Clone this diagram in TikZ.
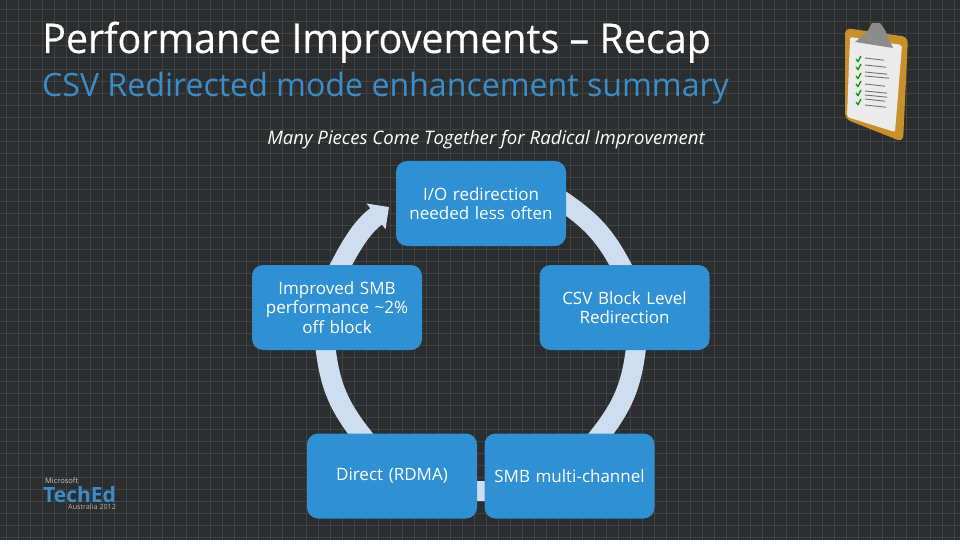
\documentclass[tikz,border=0pt]{standalone}
\usepackage{fontspec}
\setmainfont{Open Sans}
\newfontfamily\titlefont[FakeBold=0.35, FakeStretch=0.962]{Open Sans}
\usetikzlibrary{arrows.meta, backgrounds}
\definecolor{slatebg}{HTML}{2B2D2E}
\definecolor{slategrid}{HTML}{3F4343}
\definecolor{stepblue}{HTML}{2F90D3}
\definecolor{ringblue}{HTML}{CFDDF0}
\definecolor{subblue}{HTML}{3A8DC8}
\definecolor{boardgold}{HTML}{C8902A}
\tikzset{
    stepbox/.style={draw=none, fill=stepblue, rounded corners=11, minimum width=170, minimum height=85, text width=160, align=center, text=white, font=\fontsize{17}{19.5}\selectfont, inner sep=0},
    ringarc/.style={draw=ringblue, line width=20},
    gridline/.style={draw=slategrid, line width=0.9},
    tickmark/.style={draw=green!60!black, line width=1.3},
    paperline/.style={draw=black!55, line width=0.9}
}
\begin{document}
\begin{tikzpicture}[x=1pt, y=-1pt]
    \useasboundingbox (0,0) rectangle (960,540);

    \node[stepbox] (redirect) at (481,203.5) {I/O redirection\\needed less often};
    \node[stepbox] (block) at (624.5,307.5) {CSV Block Level\\Redirection};
    \node[stepbox] (multi) at (569.5,476) {SMB multi-channel};
    \node[stepbox] (rdma) at (392,476) {Direct (RDMA)};
    \node[stepbox] (smb) at (337,307.5) {Improved SMB\\performance \textasciitilde2\%\\off block};
    \coordinate (tip) at (389,207);

    \begin{pgfonlayer}{background}
    \fill[slatebg] (0,0) rectangle (960,540);
    \foreach \x in {6,18,...,954}
        \draw[gridline] (\x,0) -- (\x,540);
    \foreach \y in {9,21,...,537}
        \draw[gridline] (0,\y) -- (960,\y);
    \draw[ringarc, shorten <=-14, shorten >=-14] (redirect.east) to[bend left=15] (block.95);
    \draw[ringarc, shorten <=-14, shorten >=-14] (block.-75) to[bend left=17] (multi.53);
    \draw[ringarc, shorten <=-4, shorten >=-4] (multi.190) -- (rdma.-10);
    \draw[ringarc, shorten <=-14, shorten >=-14] (rdma.127) to[bend left=17] (smb.-105);
    \draw[ringarc, shorten <=-14, -{Triangle[length=16, width=31]}] (smb.85) to[bend left=14] (tip);
    \end{pgfonlayer}

    \node[anchor=base west, inner sep=0, text=white, font=\titlefont\fontsize{41}{41}\selectfont] (title) at (42,53) {Performance Improvements – Recap};
    \node[anchor=base west, inner sep=0, text=subblue, font=\fontsize{32.1}{32}\selectfont] (subtitle) at (42,96.5) {CSV Redirected mode enhancement summary};
    \node[anchor=base, inner sep=0, text=white, font=\fontsize{18.6}{18}\itshape] (motto) at (486,145) {Many Pieces Come Together for Radical Improvement};

    \fill[boardgold, rounded corners=6] (845,28) -- (908,37) -- (903,142) -- (845,119) -- cycle;
    \fill[white!92!black, rounded corners=2] (850,37) -- (902,45) -- (895,132) -- (847,117) -- cycle;
    \fill[black!45] (855,42) -- (867,32) -- (872,23) -- (880,23) -- (885,30) -- (893,48) -- cycle;
    \foreach \y in {59, 67, 76, 84, 93, 102}
        \draw[tickmark] (856,\y) -- (858,\y+2.5) -- (861,\y-3);
    \foreach \y/\w in {59/19, 66/21, 73/22, 77/24, 85/20, 92/22, 96/22, 100/20, 106/21}
        \draw[paperline] (865,\y-1) -- ++(\w,2.2);

    \node[anchor=base west, inner sep=0, text=white!80!black, font=\fontsize{7.5}{7}\selectfont] (maker) at (45,483) {Microsoft};
    \node[anchor=base west, inner sep=0, text=subblue, font=\fontsize{21}{21}\bfseries] (teched) at (43,502) {TechEd};
    \node[anchor=base west, inner sep=0, text=white!70!black, font=\fontsize{7.2}{7}\selectfont] (place) at (68,509.5) {Australia 2012};
\end{tikzpicture}
\end{document}
